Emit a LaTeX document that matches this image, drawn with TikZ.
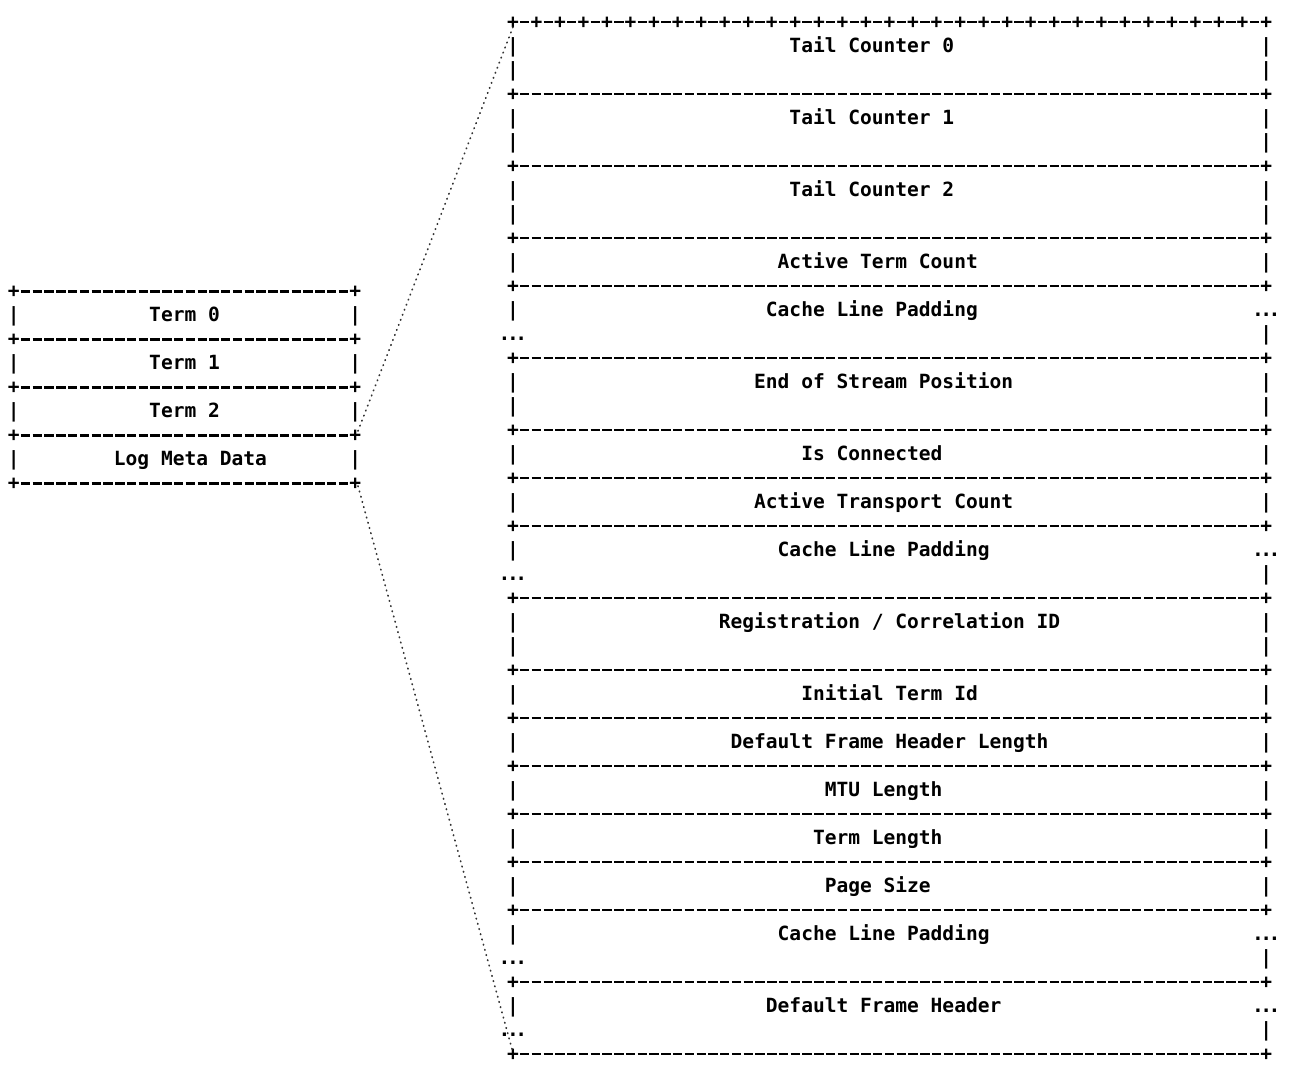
\documentclass[tikz,border=0pt]{standalone}
\usepackage{fontspec}
\setmonofont{DejaVu Sans Mono}
\tikzset{
  asc/.style={anchor=base west, inner sep=0pt, outer sep=0pt,
    font=\ttfamily\bfseries\fontsize{19.55}{24}\selectfont, text=black},
  ascc/.style={asc, anchor=base},
  conn/.style={draw=black!80, line width=1.7pt, dash pattern=on 0.6pt off 4.8pt, line cap=round},
}
\newcommand\hy{\makebox[11.77pt]{\rule[5pt]{9.4pt}{2.1pt}}}
\newcommand\rpt[2]{\foreach \ii in {1,...,#1}{#2\kern0pt}}
\newcommand\ellip{.\kern-3.5pt.\kern-3.5pt.}
% right block
\newcommand\Rtxt[3]{\node[asc] (R-#1-#2) at ({507+#2*11.77},{28.4+#1*24}) {#3};}
\newcommand\Rell[2]{\node[ascc] (R-#1-#2) at ({507+(#2+0.5)*11.77},{28.4+#1*24}) {\ellip};}
\newcommand\Rsep[1]{\Rtxt{#1}{0}{+\rpt{63}{\hy}+}}
\newcommand\Rbar[1]{\Rtxt{#1}{0}{|}\Rtxt{#1}{64}{|}}
% left block
\newcommand\Ltxt[3]{\node[asc] (L-#1-#2) at ({8+#2*11.77},{297.5+#1*24}) {#3};}
\newcommand\Lsep[1]{\Ltxt{#1}{0}{+\rpt{28}{\hy}+}}
\newcommand\Lbar[1]{\Ltxt{#1}{0}{|}\Ltxt{#1}{29}{|}}
\begin{document}
\begin{tikzpicture}[x=1pt,y=-1pt]
\useasboundingbox (0,0) rectangle (1291,1076);
% left block
\Lsep{0}
\Lbar{1}\Ltxt{1}{12}{Term 0}
\Lsep{2}
\Lbar{3}\Ltxt{3}{12}{Term 1}
\Lsep{4}
\Lbar{5}\Ltxt{5}{12}{Term 2}
\Lsep{6}
\Lbar{7}\Ltxt{7}{9}{Log Meta Data}
\Lsep{8}
% right block
\Rtxt{0}{0}{+\rpt{32}{\hy+}}
\Rbar{1}\Rtxt{1}{24}{Tail Counter 0}
\Rbar{2}
\Rsep{3}
\Rbar{4}\Rtxt{4}{24}{Tail Counter 1}
\Rbar{5}
\Rsep{6}
\Rbar{7}\Rtxt{7}{24}{Tail Counter 2}
\Rbar{8}
\Rsep{9}
\Rbar{10}\Rtxt{10}{23}{Active Term Count}
\Rsep{11}
\Rtxt{12}{0}{|}\Rtxt{12}{22}{Cache Line Padding}\Rell{12}{64}
\Rell{13}{0}\Rtxt{13}{64}{|}
\Rsep{14}
\Rbar{15}\Rtxt{15}{21}{End of Stream Position}
\Rbar{16}
\Rsep{17}
\Rbar{18}\Rtxt{18}{25}{Is Connected}
\Rsep{19}
\Rbar{20}\Rtxt{20}{21}{Active Transport Count}
\Rsep{21}
\Rtxt{22}{0}{|}\Rtxt{22}{23}{Cache Line Padding}\Rell{22}{64}
\Rell{23}{0}\Rtxt{23}{64}{|}
\Rsep{24}
\Rbar{25}\Rtxt{25}{18}{Registration / Correlation ID}
\Rbar{26}
\Rsep{27}
\Rbar{28}\Rtxt{28}{25}{Initial Term Id}
\Rsep{29}
\Rbar{30}\Rtxt{30}{19}{Default Frame Header Length}
\Rsep{31}
\Rbar{32}\Rtxt{32}{27}{MTU Length}
\Rsep{33}
\Rbar{34}\Rtxt{34}{26}{Term Length}
\Rsep{35}
\Rbar{36}\Rtxt{36}{27}{Page Size}
\Rsep{37}
\Rtxt{38}{0}{|}\Rtxt{38}{23}{Cache Line Padding}\Rell{38}{64}
\Rell{39}{0}\Rtxt{39}{64}{|}
\Rsep{40}
\Rtxt{41}{0}{|}\Rtxt{41}{22}{Default Frame Header}\Rell{41}{64}
\Rell{42}{0}\Rtxt{42}{64}{|}
\Rsep{43}
% connectors
\coordinate (lc1) at (358,431);
\coordinate (rc1) at (513,27);
\coordinate (lc2) at (358,486);
\coordinate (rc2) at (512,1049);
\draw[conn] (lc1) -- (rc1);
\draw[conn] (lc2) -- (rc2);
\end{tikzpicture}
\end{document}
